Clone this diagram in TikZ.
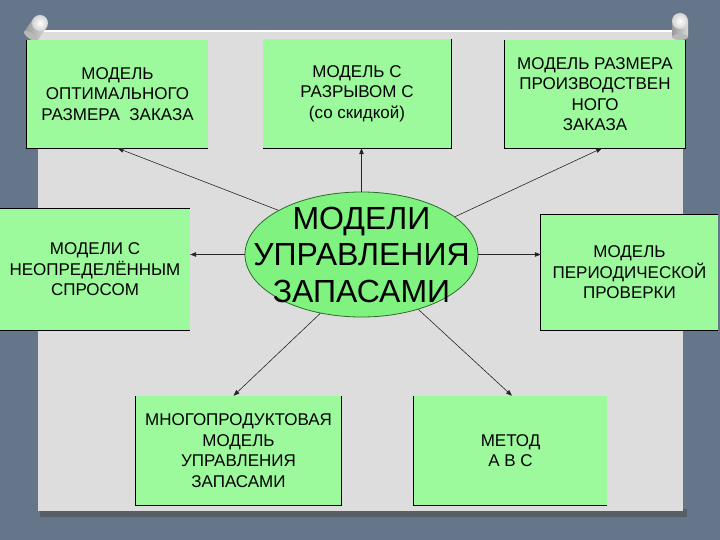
\documentclass[tikz,border=0pt]{standalone}
\usepackage{fontspec}
\setmainfont{Liberation Sans}
\usetikzlibrary{shapes.geometric,calc,arrows.meta}
\definecolor{bgslate}{HTML}{66768A}
\definecolor{panelgray}{HTML}{DDDDDD}
\definecolor{boxgreen}{HTML}{9CFA9C}
\definecolor{ellgreen}{HTML}{7FF27F}
\definecolor{ellborder}{HTML}{2E6B2E}
\begin{document}
\begin{tikzpicture}[x=1bp,y=-1bp,
  box/.style={fill=boxgreen, inner sep=0pt, align=center,
    font=\fontsize{17bp}{20.5bp}\selectfont},
  edge/.style={line width=1.1bp, black},
  link/.style={-{Triangle[length=6bp,width=4.5bp]}, line width=0.6bp, black!85},
  pinhead/.style={inner color=white, outer color=gray!35},
  pinstem/.style={left color=gray!80, right color=gray!30}]
\useasboundingbox (0,0) rectangle (720,540);
\fill[bgslate] (0,0) rectangle (720,540);
% panel
\fill[black!70, opacity=0.55] (40,509) rectangle (687,517);
\fill[panelgray] (38,30) rectangle (683,511);
\draw[white, line width=2bp] (38,31) -- (683,31);
% pins
\begin{scope}[shift={(40,23)}]
  \shade[pinstem, rotate=-35] (-8,0) rectangle (8,16);
  \fill[gray!55, rotate=-35] (0,16) ellipse (8 and 3);
  \shade[pinhead] (0,0) circle (8);
\end{scope}
\begin{scope}[shift={(680,21)}]
  \shade[pinstem] (-8,0) rectangle (8,16);
  \fill[gray!55] (0,16) ellipse (8 and 3);
  \shade[pinhead] (0,0) circle (8);
\end{scope}
% boxes
\node[box, minimum width=181bp, minimum height=108bp] (b1) at (117.5,94)
  {МОДЕЛЬ\\ОПТИМАЛЬНОГО\\РАЗМЕРА\ \ ЗАКАЗА};
\node[box, minimum width=188bp, minimum height=109bp] (b2) at (357,93.5)
  {МОДЕЛЬ С\\РАЗРЫВОМ С\\(со скидкой)};
\node[box, minimum width=180bp, minimum height=108bp] (b3) at (595,94)
  {МОДЕЛЬ РАЗМЕРА\\ПРОИЗВОДСТВЕН\\НОГО\\ЗАКАЗА};
\node[box, minimum width=190bp, minimum height=121bp] (b4) at (95,269.5)
  {МОДЕЛИ С\\НЕОПРЕДЕЛЁННЫМ\\СПРОСОМ};
\node[box, minimum width=177bp, minimum height=115bp] (b5) at (629.5,272.5)
  {МОДЕЛЬ\\ПЕРИОДИЧЕСКОЙ\\ПРОВЕРКИ};
\node[box, minimum width=205bp, minimum height=109bp] (b6) at (238.5,450.5)
  {МНОГОПРОДУКТОВАЯ\\МОДЕЛЬ\\УПРАВЛЕНИЯ\\ЗАПАСАМИ};
\node[box, minimum width=193bp, minimum height=109bp] (b7) at (510.5,450.5)
  {МЕТОД\\А В С};
% partial black edges
\draw[edge] (b1.north west) -- (b1.south west) -- (b1.south east);
\draw[edge] (b2.north east) -- (b2.south east) -- (b2.south west);
\draw[edge] (b3.north west) -- (b3.south west) -- (b3.south east) -- (b3.north east);
\draw[edge] (b4.north west) -- (b4.north east);
\draw[edge] (b4.south west) -- (b4.south east);
\draw[edge] (b5.north east) -- (b5.north west) -- (b5.south west) -- (b5.south east);
\draw[edge] (b6.north west) -- (b6.south west) -- (b6.south east) -- (b6.north east);
\draw[edge] (b7.north west) -- (b7.south west) -- (b7.south east);
% central ellipse
\node[ellipse, fill=ellgreen, draw=ellborder, line width=0.8bp,
  minimum width=233bp, minimum height=125bp, inner sep=0pt] (e) at (361.5,254.5) {};
\node[align=center, inner sep=0pt, font=\fontsize{32bp}{36.5bp}\selectfont] (et) at (e.center)
  {МОДЕЛИ\\УПРАВЛЕНИЯ\\ЗАПАСАМИ};
% connectors
\draw[link] (e.152) -- (b1.south);
\draw[link] (e.north) -- (e.north |- b2.south);
\draw[link] (e.22.5) -- ($(b3.south)+(7,0)$);
\draw[link] (e.west) -- (e.west -| b4.east);
\draw[link] (e.east) -- (e.east -| b5.west);
\draw[link] (e.235) -- ($(b6.north)+(-5,0)$);
\draw[link] (e.316) -- ($(b7.north)+(1.5,0)$);
\end{tikzpicture}
\end{document}
